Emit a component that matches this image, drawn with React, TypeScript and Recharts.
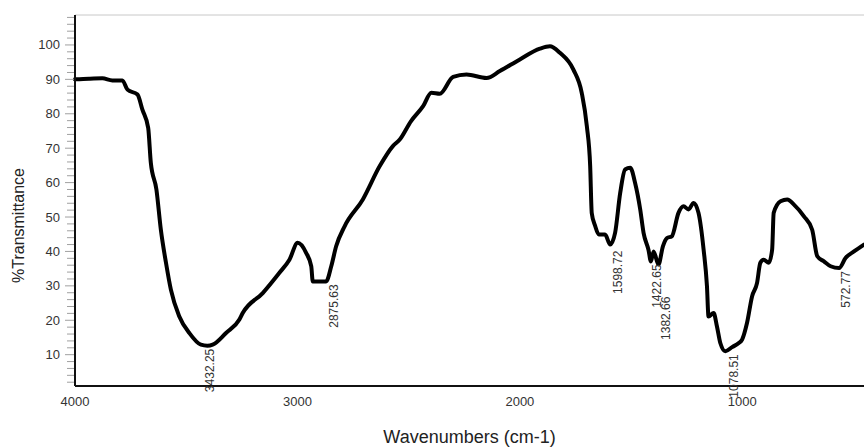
import React from 'react';
import { ComposedChart, Line, Scatter, XAxis, YAxis, ReferenceLine, Label } from 'recharts';

// Wavenumber (cm-1) and %Transmittance
const wavenumbers = [
  4000, 3937, 3877, 3832, 3787, 3764, 3719, 3697, 3671, 3659, 3634, 3614, 3591, 3569, 3531, 3486,
  3434, 3405, 3381, 3321, 3261, 3246, 3156, 3081, 3036, 2999, 2961, 2938, 2931, 2871, 2848, 2826,
  2788, 2706, 2630, 2571, 2540, 2490, 2435, 2398, 2360, 2300, 2240, 2150, 2090, 2000, 1910, 1865,
  1820, 1760, 1722, 1699, 1684, 1677, 1662, 1645, 1617, 1594, 1572, 1549, 1527, 1504, 1482, 1459,
  1444, 1422, 1411, 1399, 1377, 1357, 1339, 1317, 1287, 1264, 1242, 1219, 1197, 1174, 1159, 1152,
  1129, 1114, 1099, 1076, 1046, 1016, 1001, 979, 956, 934, 919, 904, 881, 866, 859, 828,
  798, 768, 723, 686, 663, 633, 603, 565, 536, 498, 453,
];
const transmittance = [
  90.0, 90.2, 90.3, 89.7, 89.7, 87.0, 85.6, 81.2, 75.9, 65.7, 58.0, 46.3, 36.7, 28.9, 21.1, 16.3,
  12.9, 12.6, 12.9, 16.3, 20.2, 22.1, 27.9, 33.8, 37.6, 42.5, 39.6, 35.7, 31.3, 31.3, 35.7, 41.5,
  47.3, 55.1, 64.8, 70.6, 72.5, 77.8, 82.2, 86.1, 85.8, 90.7, 91.4, 90.4, 92.4, 95.8, 98.9, 99.6,
  97.7, 92.9, 86.1, 76.4, 64.8, 51.2, 47.5, 44.9, 44.9, 42.0, 45.4, 57.0, 63.8, 64.3, 59.9, 52.2,
  45.4, 40.5, 37.1, 40.0, 36.2, 41.5, 43.9, 44.4, 51.2, 53.1, 52.2, 54.1, 51.2, 40.5, 29.9, 21.1,
  22.1, 18.2, 13.4, 11.0, 12.2, 13.4, 14.4, 19.2, 27.0, 30.8, 36.7, 37.6, 36.7, 40.5, 51.2, 54.6,
  55.1, 53.6, 50.2, 46.3, 38.6, 37.1, 35.7, 35.2, 38.1, 40.0, 42.0,
];

// Annotated peaks
const peakWavenumbers = [3432.25, 2875.63, 1598.72, 1422.65, 1382.66, 1078.51, 572.77];
const peakTransmittance = [12.6, 31.3, 42.0, 37.1, 36.2, 11.0, 35.2];
const peakLabels = ['3432.25', '2875.63', '1598.72', '1422.65', '1382.66', '1078.51', '572.77'];

// Axis ticks
const xTicks = [4000, 3000, 2000, 1000];
const yTicks = [
  2, 4, 6, 8, 10, 12, 14, 16, 18, 20, 22, 24, 26, 28, 30, 32, 34, 36, 38, 40, 42, 44, 46, 48, 50,
  52, 54, 56, 58, 60, 62, 64, 66, 68, 70, 72, 74, 76, 78, 80, 82, 84, 86, 88, 90, 92, 94, 96, 98,
  100, 102, 104, 106, 108,
];
const yTickLabels = [10, 20, 30, 40, 50, 60, 70, 80, 90, 100];

const spectrum = wavenumbers.map((wn, i) => ({ wn, t: transmittance[i] }));
const peaks = peakWavenumbers.map((wn, i) => ({ wn, t: peakTransmittance[i], label: peakLabels[i] }));

const X_MIN = 453;
const X_MAX = 4000;
const Y_MIN = 0.9;
const Y_MAX = 108.7;

const YTick = (props: any) => {
  const { x, y, payload } = props;
  const major = yTickLabels.includes(payload.value);
  return (
    <g>
      <line x1={x + (major ? 5 : 7)} x2={x + 14} y1={y} y2={y} stroke="#a0a0a0" strokeWidth={1} />
      {major && (
        <text x={x} y={y} textAnchor="end" dominantBaseline="central" fontSize={13} fill="#333">
          {payload.value}
        </text>
      )}
    </g>
  );
};

const PeakLabel = (props: any) => {
  const { cx, cy, payload } = props;
  if (cx == null || cy == null) return <g />;
  const gap = payload.label === '1382.66' ? 32 : payload.label === '1598.72' ? 6 : 3;
  const x = cx + 9;
  const y = cy + gap;
  return (
    <text
      x={x}
      y={y}
      transform={`rotate(-90, ${x}, ${y})`}
      textAnchor="end"
      dominantBaseline="central"
      fontSize={12}
      fill="#333"
    >
      {payload.label}
    </text>
  );
};

export default function App() {
  return (
    <div
      style={{
        position: 'absolute',
        left: 0,
        top: 0,
        width: 864,
        height: 448,
        background: '#fff',
        fontFamily: '"Liberation Sans", Arial, sans-serif',
        overflow: 'hidden',
      }}
    >
      <ComposedChart width={864} height={448} margin={{ top: 15, right: 0, bottom: 32, left: 0 }}>
        <XAxis
          dataKey="wn"
          type="number"
          domain={[X_MIN, X_MAX]}
          reversed
          ticks={xTicks}
          height={30}
          tickLine={false}
          tickSize={0}
          tickMargin={11}
          tick={{ fontSize: 13, fill: '#333' }}
          axisLine={{ stroke: '#111', strokeWidth: 2 }}
        >
          <Label
            content={(p: any) => {
              const vb = p.viewBox || { x: 75, y: 386, width: 789, height: 30 };
              return (
                <text
                  x={vb.x + vb.width / 2}
                  y={vb.y + vb.height + 21}
                  textAnchor="middle"
                  dominantBaseline="central"
                  fontSize={18}
                  fill="#222"
                >
                  Wavenumbers (cm-1)
                </text>
              );
            }}
          />
        </XAxis>
        <YAxis
          type="number"
          domain={[Y_MIN, Y_MAX]}
          ticks={yTicks}
          interval={0}
          width={75}
          tickSize={8}
          tickMargin={7}
          tickLine={false}
          tick={<YTick />}
          axisLine={{ stroke: '#111', strokeWidth: 2 }}
        >
          <Label
            content={(p: any) => {
              const vb = p.viewBox || { x: 0, y: 15, width: 75, height: 371 };
              const cx = 18;
              const cy = vb.y + vb.height / 2 + 25;
              return (
                <text
                  x={cx}
                  y={cy}
                  transform={`rotate(-90, ${cx}, ${cy})`}
                  textAnchor="middle"
                  dominantBaseline="central"
                  fontSize={16}
                  fill="#222"
                >
                  %Transmittance
                </text>
              );
            }}
          />
        </YAxis>
        <ReferenceLine y={Y_MAX} stroke="#c8c8c8" strokeWidth={1} />
        <Line
          data={spectrum}
          dataKey="t"
          type="monotoneX"
          stroke="#000"
          strokeWidth={4}
          strokeLinejoin="round"
          strokeLinecap="round"
          dot={false}
          activeDot={false}
          isAnimationActive={false}
        />
        <Scatter data={peaks} dataKey="t" shape={<PeakLabel />} isAnimationActive={false} />
      </ComposedChart>
    </div>
  );
}
